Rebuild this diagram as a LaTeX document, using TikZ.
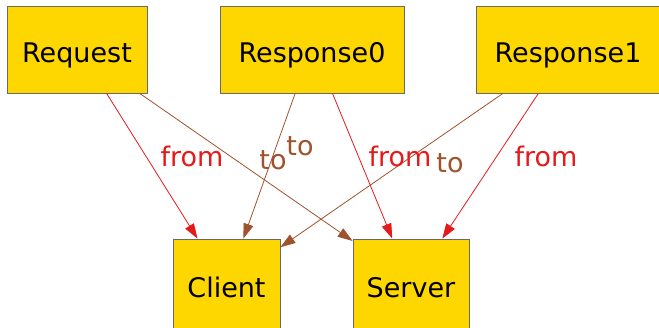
\documentclass[tikz,border=0pt]{standalone}
\usepackage{fontspec}
\setmainfont{DejaVu Sans}
\usetikzlibrary{arrows.meta}
\definecolor{boxgold}{RGB}{255,215,0}
\definecolor{boxline}{RGB}{105,105,105}
\definecolor{fromred}{RGB}{228,26,28}
\definecolor{tobrown}{RGB}{160,82,45}
\tikzset{
    box/.style={draw=boxline, fill=boxgold, line width=0.8pt, inner sep=0pt,
        minimum height=87pt, text height=25pt, text depth=0pt,
        font=\fontsize{27}{32}\selectfont},
    fromedge/.style={draw=fromred, line width=0.8pt, -{Triangle[length=15pt,width=10pt]}},
    toedge/.style={draw=tobrown, line width=0.8pt, -{Triangle[length=15pt,width=10pt]}},
    fromlabel/.style={text=fromred, inner sep=0pt, font=\fontsize{27}{32}\selectfont},
    tolabel/.style={text=tobrown, inner sep=0pt, font=\fontsize{27}{32}\selectfont},
}

\begin{document}
\begin{tikzpicture}[x=1pt, y=-1pt]
    \useasboundingbox (0,0) rectangle (659,327);

    \node[box, minimum width=140pt] (request) at (77,49.5) {Request};
    \node[box, minimum width=184pt] (response0) at (312,49.5) {Response0};
    \node[box, minimum width=184pt] (response1) at (568,49.5) {Response1};
    \node[box, minimum width=107pt, minimum height=92pt] (client) at (226.5,285) {Client};
    \node[box, minimum width=116pt, minimum height=92pt] (server) at (411,285) {Server};

    \path
        (request.-56) edge[fromedge] (client.122)
        (request.-35) edge[toedge] (server.143)
        (response0.-111) edge[toedge] (client.70)
        (response0.-65) edge[fromedge] (server.112)
        (response1.-146) edge[toedge] (client.35)
        (response1.-124) edge[fromedge] (server.56);

    % edge labels
    \node[fromlabel] (lfromreq) at (192,156) {from};
    \node[tolabel] (ltoreq) at (300,146) {to};
    \node[tolabel] (ltores0) at (273,160) {to};
    \node[fromlabel] (lfromres0) at (400,156) {from};
    \node[tolabel] (ltores1) at (450,163) {to};
    \node[fromlabel] (lfromres1) at (546,156) {from};
\end{tikzpicture}
\end{document}
